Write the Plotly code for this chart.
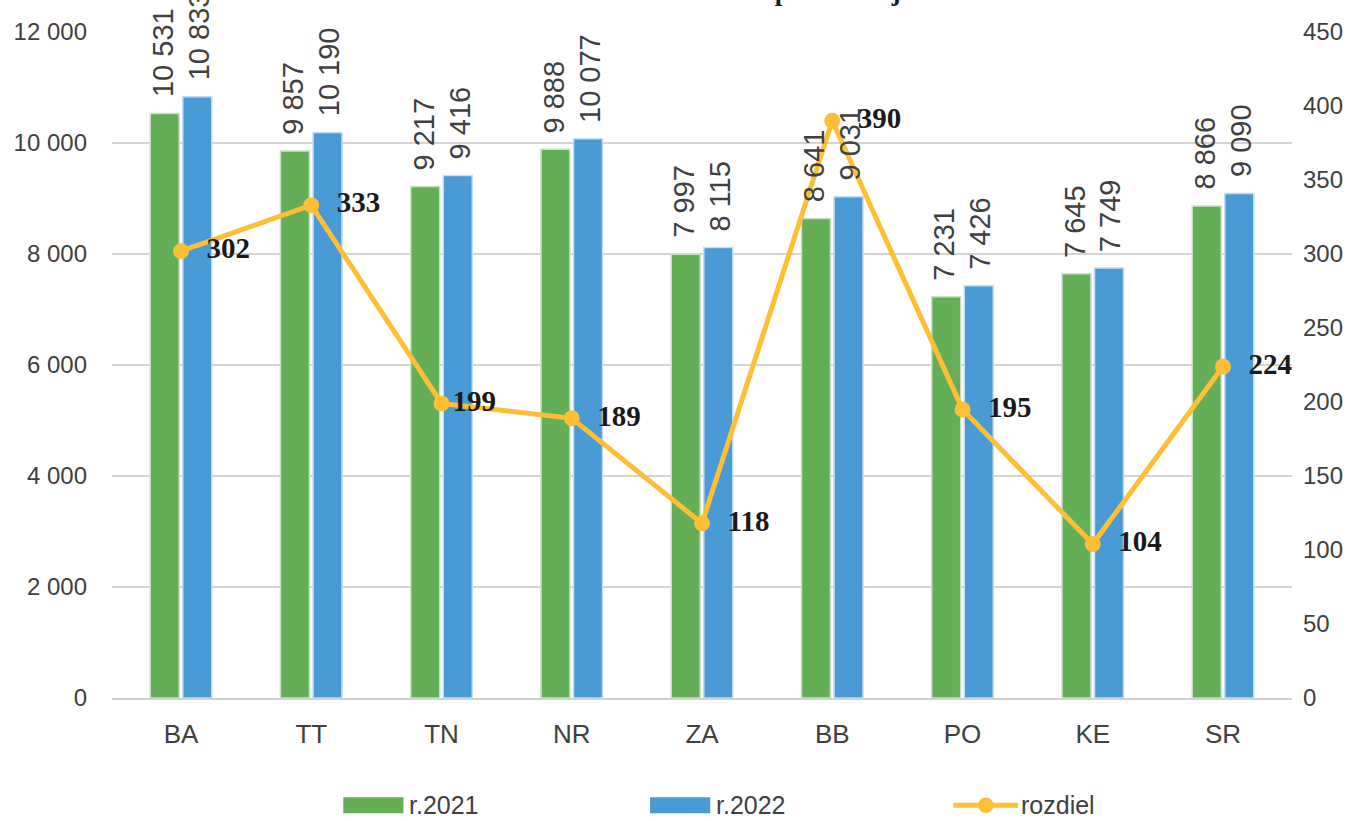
import plotly.graph_objects as go

kraje = ["BA", "TT", "TN", "NR", "ZA", "BB", "PO", "KE", "SR"]
r2021 = [10531, 9857, 9217, 9888, 7997, 8641, 7231, 7645, 8866]
r2022 = [10833, 10190, 9416, 10077, 8115, 9031, 7426, 7749, 9090]
rozdiel = [302, 333, 199, 189, 118, 390, 195, 104, 224]

left_ticks = [0, 2000, 4000, 6000, 8000, 10000, 12000]
right_ticks = [0, 50, 100, 150, 200, 250, 300, 350, 400, 450]

GREEN = "#63ae56"
BLUE = "#4a9ad6"
YELLOW = "#fdbf35"
GRAY = "#404040"
SANS = "Liberation Sans, Arial, sans-serif"
SERIF = "Liberation Serif, Times New Roman, serif"


def fmt(v):
    return f"{v:,}".replace(",", " ")


# label padding (TN label sits on the line in the original)
pad = ["\u00a0\u00a0" if k != "TN" else "" for k in kraje]

fig = go.Figure()
fig.add_trace(go.Bar(
    x=kraje, y=r2021, name="r.2021",
    marker=dict(color=GREEN, line=dict(color="#c8e3c2", width=1.5)),
))
fig.add_trace(go.Bar(
    x=kraje, y=r2022, name="r.2022",
    marker=dict(color=BLUE, line=dict(color="#c3dcf2", width=1.5)),
))
fig.add_trace(go.Scatter(
    x=kraje, y=rozdiel, name="rozdiel", yaxis="y2",
    mode="lines+markers+text",
    line=dict(color=YELLOW, width=5),
    marker=dict(color=YELLOW, size=16),
    text=[p + str(v) for p, v in zip(pad, rozdiel)],
    textposition="middle right",
    textfont=dict(family=SERIF, size=29, color="#1a1a1a", weight="bold"),
    cliponaxis=False,
))

# rotated value labels above bars
for vals, dx in ((r2021, -18), (r2022, 18)):
    for k, v in zip(kraje, vals):
        fig.add_annotation(
            x=k, y=v, xref="x", yref="y",
            text=fmt(v), textangle=-90,
            showarrow=False, xanchor="center", yanchor="bottom",
            xshift=dx, yshift=14,
            font=dict(family=SANS, size=29, color=GRAY)
        )

# title, cut off at the top edge like in the source image
fig.add_annotation(
    x=0.5, y=1.036, xref="paper", yref="paper",
    text="<b>Graf č. 5 Porovnanie stavu učiteľov v MŠ podľa krajov v r. 2021 a 2022</b>",
    showarrow=False, xanchor="center", yanchor="bottom",
    font=dict(family=SERIF, size=27, color="#1a1a1a")
)

# legend drawn by hand to get the wide swatches
legend_y = -0.161
for label, col, x0 in (("r.2021", GREEN, 0.196), ("r.2022", BLUE, 0.456)):
    fig.add_shape(type="rect", xref="paper", yref="paper",
                  x0=x0, x1=x0 + 0.051, y0=legend_y - 0.012, y1=legend_y + 0.012,
                  fillcolor=col, line_width=0)
    fig.add_annotation(x=x0 + 0.054, y=legend_y, xref="paper", yref="paper",
                       text=label, showarrow=False, xanchor="left", yanchor="middle",
                       font=dict(family=SANS, size=25, color=GRAY))
lx0 = 0.713
fig.add_shape(type="line", xref="paper", yref="paper",
              x0=lx0, x1=lx0 + 0.055, y0=legend_y, y1=legend_y,
              line=dict(color=YELLOW, width=5))
fig.add_shape(type="circle", xref="paper", yref="paper",
              x0=lx0 + 0.0275 - 0.0066, x1=lx0 + 0.0275 + 0.0066,
              y0=legend_y - 0.0117, y1=legend_y + 0.0117,
              fillcolor=YELLOW, line_width=0)
fig.add_annotation(x=lx0 + 0.056, y=legend_y, xref="paper", yref="paper",
                   text="rozdiel", showarrow=False, xanchor="left", yanchor="middle",
                   font=dict(family=SANS, size=25, color=GRAY))

fig.update_layout(
    width=1360, height=821,
    paper_bgcolor="white", plot_bgcolor="white",
    separators=", ",
    barmode="group", bargap=0.5, bargroupgap=0.11,
    margin=dict(l=112, r=68, t=32, b=123),
    showlegend=False,
    xaxis=dict(
        showgrid=False, showline=True, linecolor="#d0d0d0", linewidth=2,
        ticks="", tickfont=dict(family=SANS, size=26, color=GRAY),
        ticklabelstandoff=12, automargin=False
    ),
    yaxis=dict(
        range=[0, 12000], tickvals=left_ticks, tickformat=",d",
        showgrid=True, gridcolor="#d4d4d4", gridwidth=2,
        zeroline=False, showline=False, ticks="",
        tickfont=dict(family=SANS, size=24, color=GRAY),
        ticklabelstandoff=24, automargin=False
    ),
    yaxis2=dict(
        range=[0, 450], tickvals=right_ticks, overlaying="y", side="right",
        showgrid=False, zeroline=False, showline=False, ticks="",
        tickfont=dict(family=SANS, size=24, color=GRAY),
        ticklabelstandoff=10, automargin=False
    ),
)

fig.write_html("out.html", config={"displayModeBar": False},
               post_script="document.body.style.margin='0';")
